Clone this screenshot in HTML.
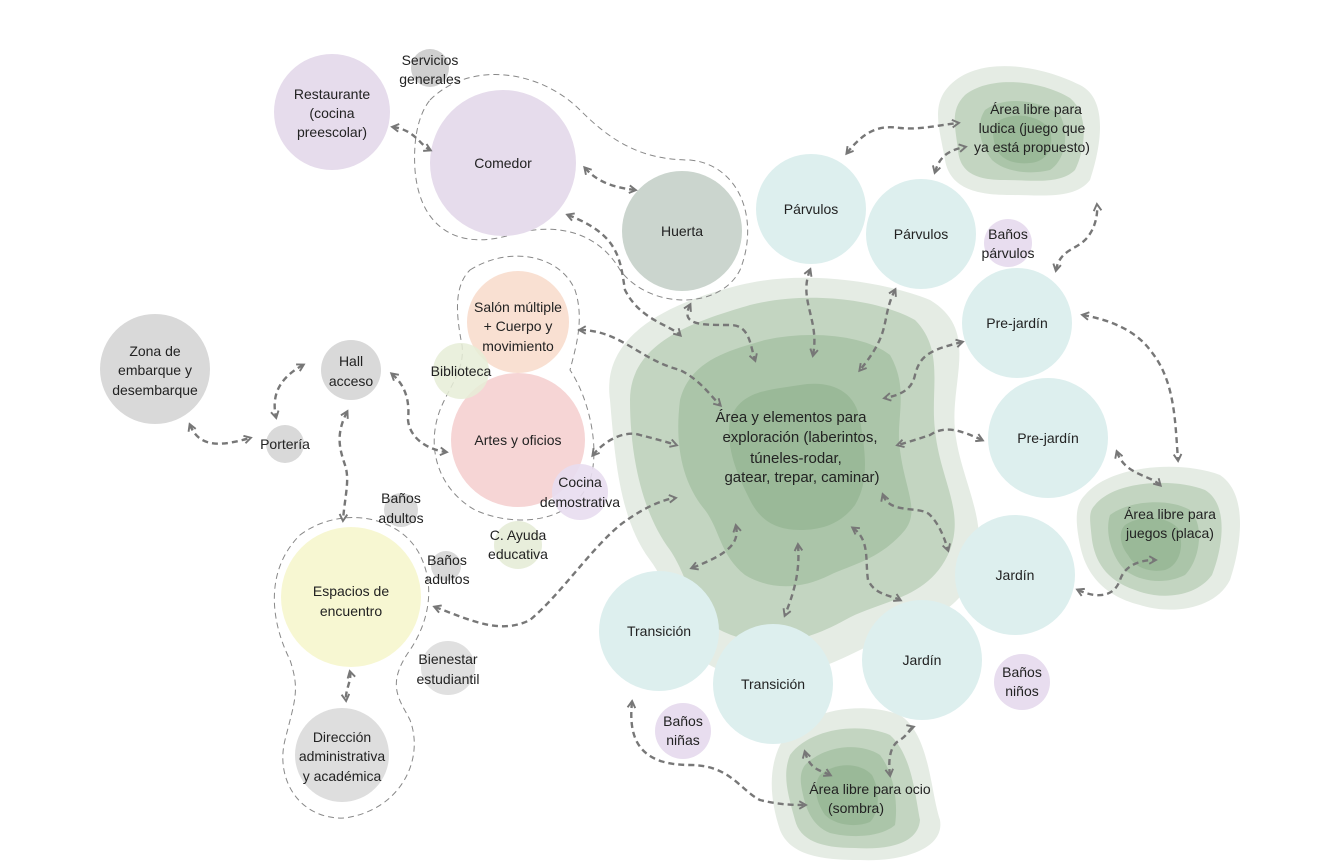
<!DOCTYPE html>
<html><head><meta charset="utf-8"><style>
html,body{margin:0;padding:0;background:#fff}
svg{display:block}
text{font-family:"Liberation Sans",sans-serif;font-size:14px;fill:#222;text-anchor:middle}
.big{font-size:15px}
.a{fill:none;stroke:#777;stroke-width:2.4;stroke-dasharray:6 4;marker-start:url(#m);marker-end:url(#m)}
.d{fill:none;stroke:#888;stroke-width:1;stroke-dasharray:6 4}
</style></head><body>
<svg width="1331" height="867" viewBox="0 0 1331 867" xmlns="http://www.w3.org/2000/svg">
<defs><marker id="m" viewBox="0 0 10 10" refX="7" refY="5" markerWidth="4" markerHeight="4" orient="auto-start-reverse"><path d="M1,1 L8,5 L1,9" fill="none" stroke="#777" stroke-width="2"/></marker></defs>

<path d="M610,400 C600,330 680,300 740,285 C800,270 880,280 930,300 C980,330 950,380 955,430 C960,480 990,520 975,570 C960,620 900,630 860,650 C820,670 770,690 720,670 C670,650 680,600 650,560 C620,520 615,460 610,400Z" fill="#e5ece4"/>
<path d="M630,400 C630,340 700,320 750,305 C810,290 880,300 915,320 C945,350 930,390 935,430 C940,480 965,510 950,550 C930,600 880,600 845,620 C800,645 760,650 720,630 C690,610 690,580 670,550 C640,510 630,450 630,400Z" fill="#c3d5c1"/>
<path d="M680,400 C690,360 730,350 765,340 C810,330 865,335 890,355 C910,390 895,420 900,450 C905,490 920,510 905,530 C880,560 850,565 830,575 C800,590 770,590 745,575 C720,555 720,530 705,510 C680,480 675,440 680,400Z" fill="#abc5a9"/>
<path d="M730,420 C740,390 770,390 800,385 C830,380 855,390 860,420 C865,450 870,480 855,505 C840,525 820,530 800,530 C775,530 760,520 750,500 C740,480 725,450 730,420Z" fill="#9ab998"/>

<path d="M950,85 C980,55 1040,65 1080,85 C1110,100 1100,150 1090,180 C1075,200 1040,195 1010,195 C980,195 950,190 945,160 C940,130 930,105 950,85Z" fill="#e5ece4"/>
<path d="M965,95 C990,75 1040,80 1070,98 C1090,115 1085,150 1075,170 C1060,185 1030,180 1005,180 C980,180 960,175 958,150 C955,125 950,110 965,95Z" fill="#c3d5c1"/>
<path d="M985,110 C1005,95 1040,100 1060,115 C1070,135 1065,160 1050,170 C1030,175 1005,172 992,160 C980,145 975,125 985,110Z" fill="#abc5a9"/>
<path d="M1000,120 C1015,112 1040,115 1050,130 C1055,150 1045,162 1030,163 C1012,165 998,158 995,145 C992,135 992,126 1000,120Z" fill="#9ab998"/>

<path d="M1085,495 C1110,465 1180,460 1220,475 C1250,495 1240,550 1230,580 C1215,610 1170,615 1140,605 C1100,595 1085,570 1080,545 C1075,520 1075,505 1085,495Z" fill="#e5ece4"/>
<path d="M1095,505 C1115,480 1175,478 1205,490 C1230,505 1222,550 1212,575 C1195,598 1160,600 1135,590 C1105,580 1095,560 1092,540 C1090,520 1088,512 1095,505Z" fill="#c3d5c1"/>
<path d="M1110,515 C1130,500 1170,498 1190,510 C1205,525 1200,560 1185,575 C1165,585 1140,582 1125,570 C1110,555 1105,530 1110,515Z" fill="#abc5a9"/>
<path d="M1125,525 C1140,515 1165,515 1178,528 C1185,545 1180,565 1165,570 C1150,573 1135,568 1128,555 C1120,545 1118,532 1125,525Z" fill="#9ab998"/>

<path d="M780,745 C800,710 860,700 900,715 C930,735 930,790 940,820 C945,850 900,862 860,860 C820,860 790,855 780,830 C770,800 768,770 780,745Z" fill="#e5ece4"/>
<path d="M790,755 C810,728 860,722 890,735 C912,755 915,795 920,820 C918,845 885,850 855,848 C820,848 800,840 795,820 C788,795 782,775 790,755Z" fill="#c3d5c1"/>
<path d="M805,765 C825,745 860,742 880,755 C895,775 898,805 895,825 C880,838 850,838 830,833 C810,825 805,805 802,790 C800,780 800,772 805,765Z" fill="#abc5a9"/>
<path d="M820,775 C835,762 860,762 872,775 C880,790 880,812 870,822 C855,828 835,825 825,815 C815,800 813,785 820,775Z" fill="#9ab998"/>

<path class="d" d="M430,100 C470,60 540,70 580,110 C610,140 640,160 690,160 C740,165 760,220 740,270 C720,310 650,310 620,270 C600,235 560,220 510,235 C460,250 420,230 415,170 C413,140 418,115 430,100Z"/>
<path class="d" d="M470,270 C510,245 560,255 575,290 C585,320 575,350 570,370 C590,400 600,450 590,480 C575,520 520,530 475,510 C440,490 425,450 440,410 C450,385 465,370 462,345 C455,310 455,285 470,270Z"/>
<path class="d" d="M300,535 C340,505 400,515 420,555 C435,585 430,620 410,650 C385,685 400,700 410,720 C425,760 400,810 345,818 C300,820 275,780 285,740 C295,700 300,690 290,660 C270,620 265,570 300,535Z"/>

<circle cx="332" cy="112" r="58" fill="#e6dcec"/>
<circle cx="430" cy="68" r="19" fill="#cfcfcf"/>
<circle cx="503" cy="163" r="73" fill="#e6dcec"/>
<circle cx="682" cy="231" r="60" fill="#cbd5ce"/>
<circle cx="811" cy="209" r="55" fill="#ddefee"/>
<circle cx="921" cy="234" r="55" fill="#ddefee"/>
<circle cx="1008" cy="243" r="24" fill="#e8ddef"/>
<circle cx="1017" cy="323" r="55" fill="#ddefee"/>
<circle cx="1048" cy="438" r="60" fill="#ddefee"/>
<circle cx="1015" cy="575" r="60" fill="#ddefee"/>
<circle cx="922" cy="660" r="60" fill="#ddefee"/>
<circle cx="659" cy="631" r="60" fill="#ddefee"/>
<circle cx="773" cy="684" r="60" fill="#ddefee"/>
<circle cx="1022" cy="682" r="28" fill="#e8ddef"/>
<circle cx="683" cy="731" r="28" fill="#e8ddef"/>
<circle cx="518" cy="322" r="51" fill="#f9e0d2"/>
<circle cx="518" cy="440" r="67" fill="#f6d5d5"/>
<circle cx="461" cy="371" r="28" fill="#e6edd7" fill-opacity="0.85"/>
<circle cx="580" cy="492" r="28" fill="#e8ddef" fill-opacity="0.9"/>
<circle cx="518" cy="545" r="24" fill="#e8eedb"/>
<circle cx="155" cy="369" r="55" fill="#d9d9d9"/>
<circle cx="351" cy="370" r="30" fill="#d9d9d9"/>
<circle cx="285" cy="444" r="19" fill="#d9d9d9"/>
<circle cx="401" cy="510" r="17" fill="#d9d9d9"/>
<circle cx="446" cy="566" r="15" fill="#d9d9d9"/>
<circle cx="351" cy="597" r="70" fill="#f7f7d2"/>
<circle cx="448" cy="668" r="27" fill="#e0e0e0"/>
<circle cx="342" cy="755" r="47" fill="#dedede"/>

<path class="a" d="M393,127 C415,130 420,145 430,150"/>
<path class="a" d="M585,168 C600,185 620,188 635,190"/>
<path class="a" d="M568,215 C620,235 620,260 625,290 C640,320 670,325 680,335"/>
<path class="a" d="M690,305 C680,325 700,325 730,325 C750,325 750,345 755,360"/>
<path class="a" d="M580,330 C620,330 640,360 680,370 C700,380 710,395 720,405"/>
<path class="a" d="M593,455 C605,440 625,430 640,435 C660,440 670,443 676,445"/>
<path class="a" d="M435,607 C470,620 500,635 530,620 C560,595 590,550 620,525 C640,510 660,500 675,498"/>
<path class="a" d="M810,270 C798,300 820,320 813,355"/>
<path class="a" d="M895,290 C880,320 893,330 860,370"/>
<path class="a" d="M962,342 C930,350 920,355 915,375 C912,390 900,395 885,398"/>
<path class="a" d="M982,440 C960,430 945,425 930,435 C915,440 905,443 898,445"/>
<path class="a" d="M883,495 C890,515 920,505 930,515 C940,525 945,540 948,550"/>
<path class="a" d="M853,528 C870,540 865,560 868,580 C875,595 890,595 900,600"/>
<path class="a" d="M798,545 C800,570 795,590 785,615"/>
<path class="a" d="M736,526 C740,545 725,555 692,568"/>
<path class="a" d="M847,153 C865,130 880,125 900,128 C920,130 940,125 958,123"/>
<path class="a" d="M935,172 C940,155 950,150 965,147"/>
<path class="a" d="M1056,270 C1060,250 1075,250 1085,240 C1095,230 1098,215 1097,205"/>
<path class="a" d="M1083,315 C1110,320 1135,330 1150,350 C1175,380 1175,420 1178,460"/>
<path class="a" d="M1117,452 C1125,475 1150,475 1160,485"/>
<path class="a" d="M1078,590 C1100,600 1115,595 1120,580 C1125,565 1140,560 1155,560"/>
<path class="a" d="M632,702 C628,740 640,765 690,765 C730,765 740,790 760,800 C780,805 795,805 805,805"/>
<path class="a" d="M805,752 C810,770 820,770 830,775"/>
<path class="a" d="M890,775 C888,760 890,745 900,740 C908,735 910,728 913,727"/>
<path class="a" d="M190,425 C200,450 225,445 250,438"/>
<path class="a" d="M303,365 C285,375 270,390 276,417"/>
<path class="a" d="M347,412 C335,435 340,450 345,465 C350,480 345,495 343,520"/>
<path class="a" d="M392,374 C405,385 410,400 408,420 C410,440 430,450 446,452"/>
<path class="a" d="M350,672 C352,680 345,690 346,700"/>

<text x="332" y="99">Restaurante</text><text x="332" y="118">(cocina</text><text x="332" y="137">preescolar)</text>
<text x="430" y="65">Servicios</text><text x="430" y="84">generales</text>
<text x="503" y="168">Comedor</text>
<text x="682" y="236">Huerta</text>
<text x="811" y="214">Párvulos</text>
<text x="921" y="239">Párvulos</text>
<text x="1008" y="239">Baños</text><text x="1008" y="258">párvulos</text>
<text x="1017" y="328">Pre-jardín</text>
<text x="1048" y="443">Pre-jardín</text>
<text x="1015" y="580">Jardín</text>
<text x="922" y="665">Jardín</text>
<text x="659" y="636">Transición</text>
<text x="773" y="689">Transición</text>
<text x="1022" y="677">Baños</text><text x="1022" y="696">niños</text>
<text x="683" y="726">Baños</text><text x="683" y="745">niñas</text>
<text x="1036" y="114">Área libre para</text><text x="1032" y="133">ludica (juego que</text><text x="1032" y="152">ya está propuesto)</text>
<text x="1170" y="519">Área libre para</text><text x="1170" y="538">juegos (placa)</text>
<text x="870" y="794">Área libre para ocio</text><text x="856" y="813">(sombra)</text>
<text class="big" x="791" y="422">Área y elementos para</text><text class="big" x="800" y="442">exploración (laberintos,</text><text class="big" x="796" y="463">túneles-rodar,</text><text class="big" x="802" y="482">gatear, trepar, caminar)</text>
<text x="518" y="312">Salón múltiple</text><text x="518" y="331">+ Cuerpo y</text><text x="518" y="351">movimiento</text>
<text x="461" y="376">Biblioteca</text>
<text x="518" y="445">Artes y oficios</text>
<text x="580" y="487">Cocina</text><text x="580" y="507">demostrativa</text>
<text x="518" y="540">C. Ayuda</text><text x="518" y="559">educativa</text>
<text x="155" y="356">Zona de</text><text x="155" y="375">embarque y</text><text x="155" y="395">desembarque</text>
<text x="351" y="366">Hall</text><text x="351" y="386">acceso</text>
<text x="285" y="449">Portería</text>
<text x="401" y="503">Baños</text><text x="401" y="523">adultos</text>
<text x="447" y="565">Baños</text><text x="447" y="584">adultos</text>
<text x="351" y="596">Espacios de</text><text x="351" y="616">encuentro</text>
<text x="448" y="664">Bienestar</text><text x="448" y="684">estudiantil</text>
<text x="342" y="742">Dirección</text><text x="342" y="761">administrativa</text><text x="342" y="781">y académica</text>
</svg>
</body></html>
